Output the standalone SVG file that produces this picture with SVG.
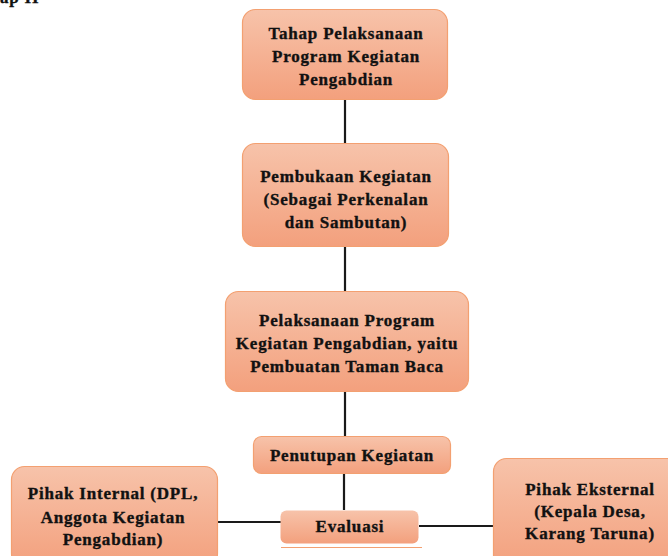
<svg xmlns="http://www.w3.org/2000/svg" width="668" height="556" viewBox="0 0 668 556">
<defs>
<linearGradient id="g" x1="0" y1="0" x2="0" y2="1">
<stop offset="0" stop-color="#f7c3aa"/>
<stop offset="1" stop-color="#f3a07d"/>
</linearGradient>
<style>
.box{fill:url(#g);stroke:#f3a071;stroke-width:1.2}
.t{font-family:"Liberation Serif","Times New Roman",serif;font-weight:bold;font-size:17px;fill:#111111;stroke:#111111;stroke-width:0.35px;text-anchor:middle;letter-spacing:0.8px}
.c{stroke:#1a1a1a;stroke-width:2.2;fill:none}
</style>
</defs>
<rect width="668" height="556" fill="#ffffff"/>
<text x="0" y="3" class="t" style="text-anchor:start">ap II</text>
<g id="connectors">
<line class="c" x1="345" y1="99" x2="345" y2="143"/>
<line class="c" x1="345" y1="247" x2="345" y2="291"/>
<line class="c" x1="345" y1="392" x2="345" y2="436"/>
<line class="c" x1="344" y1="474" x2="344" y2="510"/>
<line class="c" x1="218" y1="522" x2="282" y2="522"/>
<line class="c" x1="419" y1="526" x2="494" y2="526"/>
</g>
<g id="n1">
<rect class="box" x="242.5" y="9.5" width="205" height="90" rx="13"/>
<text class="t" x="346" y="39">Tahap Pelaksanaan</text>
<text class="t" x="346" y="62">Program Kegiatan</text>
<text class="t" x="346" y="85">Pengabdian</text>
</g>
<g id="n2">
<rect class="box" x="242.5" y="143.5" width="206" height="103" rx="13"/>
<text class="t" x="346" y="182">Pembukaan Kegiatan</text>
<text class="t" x="346" y="205">(Sebagai Perkenalan</text>
<text class="t" x="346" y="228">dan Sambutan)</text>
</g>
<g id="n3">
<rect class="box" x="225.5" y="291.5" width="243" height="100" rx="13"/>
<text class="t" x="347" y="326">Pelaksanaan Program</text>
<text class="t" x="347" y="349">Kegiatan Pengabdian, yaitu</text>
<text class="t" x="347" y="372">Pembuatan Taman Baca</text>
</g>
<g id="n4">
<rect class="box" x="253.5" y="436.5" width="197" height="37" rx="8"/>
<text class="t" x="352" y="461">Penutupan Kegiatan</text>
</g>
<g id="n5">
<rect class="box" x="280.5" y="510.5" width="138" height="33" rx="6" style="stroke:none"/>
<text class="t" x="350" y="532">Evaluasi</text>
<line x1="281" y1="547.5" x2="422" y2="547.5" stroke="#f3a071" stroke-width="1.2"/>
</g>
<g id="n6">
<rect class="box" x="11.5" y="466.5" width="206" height="100" rx="13"/>
<text class="t" x="113" y="499">Pihak Internal (DPL,</text>
<text class="t" x="113" y="523">Anggota Kegiatan</text>
<text class="t" x="113" y="545">Pengabdian)</text>
</g>
<g id="n7">
<rect class="box" x="493.5" y="458.5" width="190" height="110" rx="13"/>
<text class="t" x="590" y="495">Pihak Eksternal</text>
<text class="t" x="590" y="517">(Kepala Desa,</text>
<text class="t" x="590" y="539">Karang Taruna)</text>
</g>
</svg>
